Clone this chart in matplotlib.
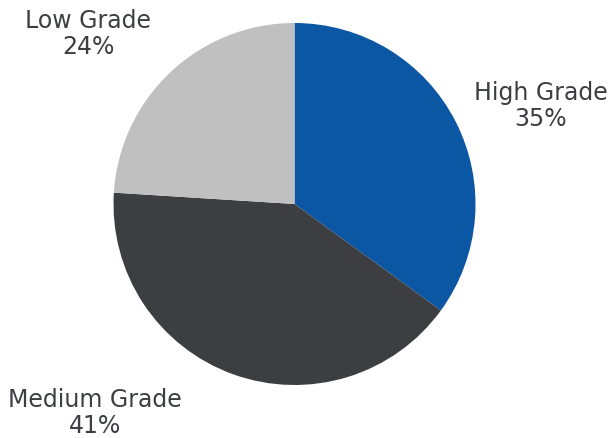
import matplotlib
matplotlib.use("Agg")
import matplotlib.pyplot as plt

categories = ["High Grade", "Medium Grade", "Low Grade"]
values = [35, 41, 24]
colors = ["#0b57a4", "#3d3e42", "#c0c0c0"]

W, H = 614, 439
fig = plt.figure(figsize=(W / 100, H / 100), dpi=100)
ax = fig.add_axes([0, 0, 1, 1])

cx, cy, r = 294.5, H - 205, 181
ax.pie(values, colors=colors, startangle=90, counterclock=False,
       center=(cx, cy), radius=r, frame=True,
       wedgeprops=dict(linewidth=0))
ax.set_xlim(0, W)
ax.set_ylim(0, H)
ax.set_aspect("equal")
ax.axis("off")

label_pos = {"High Grade": (541, 106), "Medium Grade": (95, 413), "Low Grade": (88, 34)}
for cat, v in zip(categories, values):
    x, y = label_pos[cat]
    ax.text(x, H - y, f"{cat}\n{v}%", ha="center", va="center",
            fontsize=17, color="#3d3e42", linespacing=1.15,
            family="DejaVu Sans")

fig.savefig("out.png", dpi=100)
